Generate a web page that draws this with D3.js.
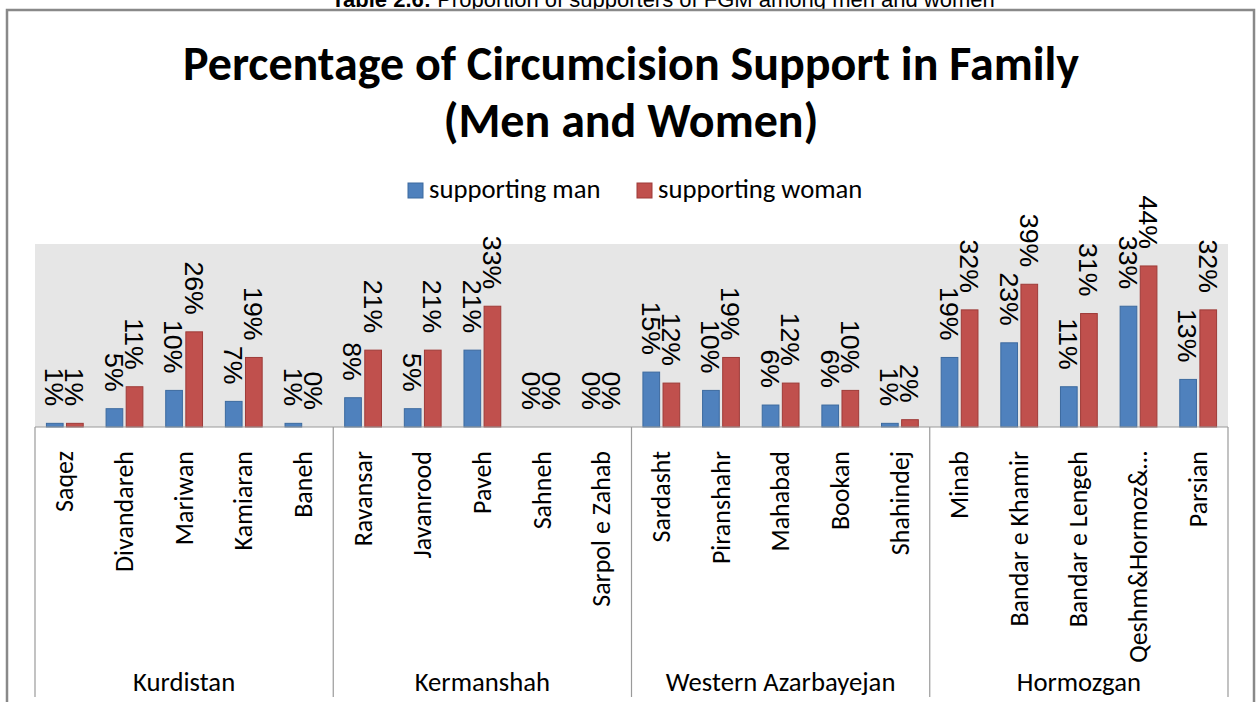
<!DOCTYPE html>
<html>
<head>
<meta charset="utf-8">
<script src="https://cdn.jsdelivr.net/npm/d3@7"></script>
<style>
  body { margin: 0; background: #fff; }
  svg { display: block; }
</style>
</head>
<body>
<svg id="chart" width="1258" height="702"></svg>
<script>
// data
const regions = ["Kurdistan", "Kermanshah", "Western Azarbayejan", "Hormozgan"];
const cities = [
  "Saqez", "Divandareh", "Mariwan", "Kamiaran", "Baneh",
  "Ravansar", "Javanrood", "Paveh", "Sahneh", "Sarpol e Zahab",
  "Sardasht", "Piranshahr", "Mahabad", "Bookan", "Shahindej",
  "Minab", "Bandar e Khamir", "Bandar e Lengeh", "Qeshm&Hormoz&\u2026", "Parsian"
];
const cityRegion = [
  "Kurdistan", "Kurdistan", "Kurdistan", "Kurdistan", "Kurdistan",
  "Kermanshah", "Kermanshah", "Kermanshah", "Kermanshah", "Kermanshah",
  "Western Azarbayejan", "Western Azarbayejan", "Western Azarbayejan", "Western Azarbayejan", "Western Azarbayejan",
  "Hormozgan", "Hormozgan", "Hormozgan", "Hormozgan", "Hormozgan"
];
const seriesNames = ["supporting man", "supporting woman"];
const manValues   = [1, 5, 10, 7, 1,  8, 5, 21, 0, 0,  15, 10, 6, 6, 1,  19, 23, 11, 33, 13];
const womanValues = [1, 11, 26, 19, 0,  21, 21, 33, 0, 0,  12, 19, 12, 10, 2,  32, 39, 31, 44, 32];
const seriesColors = ["#4F81BD", "#C0504D"];
const seriesStroke = ["#3C6A9F", "#9E3B38"];

const svg = d3.select("#chart");
const calibri = "Carlito, Lato, 'Open Sans', sans-serif";
const arial = "'Liberation Sans', Arial, sans-serif";

// plot area
const plot = {left: 35, right: 1228, top: 244, bottom: 427};

// caption above the chart box (cut off at the top, as in the source page)
const cap = svg.append("text")
    .attr("x", 663).attr("y", 7)
    .attr("text-anchor", "middle")
    .style("font-family", arial).style("font-size", "22px");
cap.append("tspan").style("font-weight", "bold").text("Table 2.6: ");
cap.append("tspan").text("Proportion of supporters of FGM among men and women");

// chart box
svg.append("rect")
    .attr("x", 7).attr("y", 10)
    .attr("width", 1247).attr("height", 720)
    .attr("fill", "#fff")
    .attr("stroke", "#898989").attr("stroke-width", 2.5);

// title
const title = svg.append("text")
    .attr("text-anchor", "middle")
    .style("font-family", calibri).style("font-weight", "bold")
    .style("font-size", "48px").attr("fill", "#000");
title.append("tspan").attr("x", 631).attr("y", 80)
    .text("Percentage of Circumcision Support in Family");
title.append("tspan").attr("x", 631).attr("y", 137)
    .text("(Men and Women)");

// legend
const legendX = [408, 637];
const legend = svg.append("g");
seriesNames.forEach((name, i) => {
  legend.append("rect")
      .attr("x", legendX[i]).attr("y", 183)
      .attr("width", 15).attr("height", 15)
      .attr("fill", seriesColors[i]).attr("stroke", seriesStroke[i]);
  legend.append("text")
      .attr("x", legendX[i] + 21).attr("y", 198)
      .style("font-family", calibri).style("font-size", "26.7px")
      .attr("fill", "#000")
      .text(name);
});

// scales
const x = d3.scaleBand()
    .domain(d3.range(cities.length))
    .range([plot.left, plot.right])
    .paddingInner(0).paddingOuter(0);

const xs = d3.scaleBand()
    .domain([0, 1])
    .range([x.bandwidth() / 2 - 18.4, x.bandwidth() / 2 + 18.4])
    .paddingInner(0.17);

const y = d3.scaleLinear()
    .domain([0, 50])
    .range([plot.bottom, plot.top]);

svg.append("rect")
    .attr("x", plot.left).attr("y", plot.top)
    .attr("width", plot.right - plot.left)
    .attr("height", plot.bottom - plot.top)
    .attr("fill", "#E6E6E6");

const series = [manValues, womanValues];

// bars
series.forEach((vals, s) => {
  svg.append("g").selectAll("rect")
    .data(vals)
    .join("rect")
      .attr("x", (d, i) => x(i) + xs(s))
      .attr("y", d => y(d))
      .attr("width", xs.bandwidth())
      .attr("height", d => y(0) - y(d))
      .attr("fill", seriesColors[s])
      .attr("stroke", d => d > 0 ? seriesStroke[s] : "none")
      .attr("stroke-width", 1);
});

// data labels, rotated 90 degrees, sitting above each bar
series.forEach((vals, s) => {
  svg.append("g").selectAll("text")
    .data(vals)
    .join("text")
      .attr("transform", (d, i) =>
        `translate(${x(i) + xs(s) + xs.bandwidth() / 2},${y(d) - 17}) rotate(90)`)
      .attr("text-anchor", "end")
      .attr("dy", "0.36em")
      .style("font-family", arial).style("font-size", "26.7px")
      .attr("fill", "#000")
      .text(d => d + "%");
});

// category axis: baseline and group separators
const axisG = svg.append("g").attr("stroke", "#9A9A9A").attr("stroke-width", 1.2);
axisG.append("line")
    .attr("x1", plot.left).attr("x2", plot.right)
    .attr("y1", plot.bottom).attr("y2", plot.bottom);

const groupEdges = regions.map(r => cityRegion.indexOf(r));
groupEdges.push(cities.length);
const edgeX = idx => idx < cities.length ? x(idx) : plot.right;
groupEdges.forEach(idx => {
  axisG.append("line")
      .attr("x1", edgeX(idx)).attr("x2", edgeX(idx))
      .attr("y1", plot.bottom).attr("y2", 697);
});

// city labels (vertical)
const catLabels = svg.append("g").selectAll("text")
  .data(cities)
  .join("text")
    .attr("transform", (d, i) => `translate(${x(i) + x.bandwidth() / 2},451) rotate(-90)`)
    .attr("text-anchor", "end")
    .attr("dy", "0.33em")
    .style("font-family", calibri).style("font-size", "26px")
    .attr("fill", "#000")
    .text(d => d);

// very long labels get pushed up so they stop above the region labels
catLabels.each(function(d, i) {
  const len = this.getComputedTextLength();
  if (451 + len > 668) {
    d3.select(this).attr("transform",
      `translate(${x(i) + x.bandwidth() / 2},${668 - len}) rotate(-90)`);
  }
});

// region labels
svg.append("g").selectAll("text")
  .data(regions)
  .join("text")
    .attr("x", (r, k) => (edgeX(groupEdges[k]) + edgeX(groupEdges[k + 1])) / 2)
    .attr("y", 691)
    .attr("text-anchor", "middle")
    .style("font-family", calibri).style("font-size", "26.7px")
    .attr("fill", "#000")
    .text(r => r);
</script>
</body>
</html>
